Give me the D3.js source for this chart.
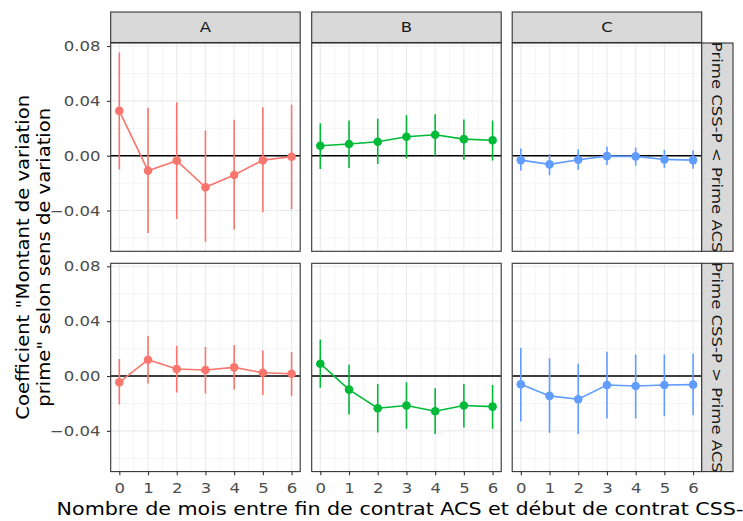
<!DOCTYPE html>
<html>
<head>
<meta charset="utf-8">
<script src="https://cdn.jsdelivr.net/npm/d3@7"></script>
<style>
  body { margin: 0; background: #fff; }
  svg { display: block; }
  text { font-family: "DejaVu Sans", sans-serif; }
</style>
</head>
<body>
<svg id="chart" width="743" height="521"></svg>
<script>
// ---- data ----
const months = [0, 1, 2, 3, 4, 5, 6];
const colFacets = ["A", "B", "C"];
const rowFacets = ["Prime CSS-P < Prime ACS", "Prime CSS-P > Prime ACS"];
const facetColors = ["#F8766D", "#00BA38", "#619CFF"];
const yTicks = [-0.04, 0.00, 0.04, 0.08];
const yMinorTicks = [-0.06, -0.02, 0.02, 0.06];
const xMinorTicks = [0.5, 1.5, 2.5, 3.5, 4.5, 5.5];

// row 1: Prime CSS-P < Prime ACS
const estA_lt  = [0.0327, -0.0109, -0.0036, -0.0230, -0.0141, -0.0032, -0.0007];
const lowA_lt  = [-0.0100, -0.0563, -0.0461, -0.0628, -0.0538, -0.0412, -0.0390];
const highA_lt = [0.0753, 0.0349, 0.0390, 0.0184, 0.0262, 0.0354, 0.0371];
const estB_lt  = [0.0073, 0.0085, 0.0102, 0.0138, 0.0153, 0.0121, 0.0113];
const lowB_lt  = [-0.0097, -0.0090, -0.0061, -0.0020, 0.0000, -0.0029, -0.0034];
const highB_lt = [0.0237, 0.0257, 0.0269, 0.0295, 0.0303, 0.0264, 0.0257];
const estC_lt  = [-0.0032, -0.0063, -0.0029, -0.0003, -0.0005, -0.0027, -0.0032];
const lowC_lt  = [-0.0107, -0.0143, -0.0102, -0.0068, -0.0073, -0.0090, -0.0095];
const highC_lt = [0.0053, 0.0012, 0.0048, 0.0068, 0.0060, 0.0041, 0.0039];
// row 2: Prime CSS-P > Prime ACS
const estA_gt  = [-0.0046, 0.0119, 0.0051, 0.0044, 0.0063, 0.0024, 0.0017];
const lowA_gt  = [-0.0208, -0.0055, -0.0121, -0.0128, -0.0099, -0.0138, -0.0148];
const highA_gt = [0.0124, 0.0291, 0.0221, 0.0211, 0.0225, 0.0187, 0.0175];
const estB_gt  = [0.0090, -0.0099, -0.0235, -0.0215, -0.0257, -0.0215, -0.0223];
const lowB_gt  = [-0.0085, -0.0281, -0.0412, -0.0385, -0.0422, -0.0375, -0.0385];
const highB_gt = [0.0267, 0.0083, -0.0058, -0.0046, -0.0089, -0.0058, -0.0065];
const estC_gt  = [-0.0060, -0.0145, -0.0169, -0.0065, -0.0073, -0.0065, -0.0063];
const lowC_gt  = [-0.0332, -0.0413, -0.0422, -0.0310, -0.0310, -0.0293, -0.0286];
const highC_gt = [0.0206, 0.0129, 0.0090, 0.0177, 0.0157, 0.0157, 0.0163];

const xTitle = "Nombre de mois entre fin de contrat ACS et début de contrat CSS-P";
const yTitle = ["Coefficient \"Montant de variation", "prime\" selon sens de variation"];

const series = [
  [[estA_lt, lowA_lt, highA_lt], [estB_lt, lowB_lt, highB_lt], [estC_lt, lowC_lt, highC_lt]],
  [[estA_gt, lowA_gt, highA_gt], [estB_gt, lowB_gt, highB_gt], [estC_gt, lowC_gt, highC_gt]]
];

// ---- layout ----
const svg = d3.select("#chart");
const panelLeft = [110.7, 311.7, 512.2];
const panelW = 189.5;
const panelTop = [43, 263.3];
const panelH = 208.3;
const stripH = 30.5;
const stripRightW = 31.3;
const SX = 1.18;          // horizontal glyph stretch along writing direction
const tickFont = "14px";
const titleFont = "17.5px";

function stretchText(sel, sx) {
  sel.each(function () {
    const t = d3.select(this);
    const tx = +t.attr("x") || 0;
    const ty = +t.attr("y") || 0;
    t.attr("x", 0).attr("y", 0).attr("transform", `translate(${tx},${ty}) scale(${sx},1)`);
  });
}

// scales
const allVals = [];
series.forEach(r => r.forEach(s => { allVals.push(...s[1], ...s[2], ...s[0]); }));
const yMin = d3.min(allVals), yMax = d3.max(allVals);
const yPad = (yMax - yMin) * 0.05;
const xPad = (d3.max(months) - d3.min(months)) * 0.05;

const x = d3.scaleLinear().domain([d3.min(months) - xPad, d3.max(months) + xPad]).range([0, panelW]);
const y = d3.scaleLinear().domain([yMin - yPad, yMax + yPad]).range([panelH, 0]);

const defs = svg.append("defs");

rowFacets.forEach((rowName, ri) => {
  colFacets.forEach((colName, ci) => {
    const g = svg.append("g").attr("transform", `translate(${panelLeft[ci]},${panelTop[ri]})`);
    const clipId = `clip-${ri}-${ci}`;
    defs.append("clipPath").attr("id", clipId).append("rect").attr("width", panelW).attr("height", panelH);

    g.append("rect").attr("width", panelW).attr("height", panelH).attr("fill", "#fff");
    // minor grid
    g.selectAll(".ymin").data(yMinorTicks).enter().append("line")
      .attr("x1", 0).attr("x2", panelW).attr("y1", d => y(d)).attr("y2", d => y(d))
      .attr("stroke", "#EBEBEB").attr("stroke-width", 0.55);
    g.selectAll(".xmin").data(xMinorTicks).enter().append("line")
      .attr("y1", 0).attr("y2", panelH).attr("x1", d => x(d)).attr("x2", d => x(d))
      .attr("stroke", "#EBEBEB").attr("stroke-width", 0.55);
    // major grid
    g.selectAll(".ymaj").data(yTicks).enter().append("line")
      .attr("x1", 0).attr("x2", panelW).attr("y1", d => y(d)).attr("y2", d => y(d))
      .attr("stroke", "#EBEBEB").attr("stroke-width", 1.1);
    g.selectAll(".xmaj").data(months).enter().append("line")
      .attr("y1", 0).attr("y2", panelH).attr("x1", d => x(d)).attr("x2", d => x(d))
      .attr("stroke", "#EBEBEB").attr("stroke-width", 1.1);

    const [est, low, high] = series[ri][ci];
    const color = facetColors[ci];
    const pts = months.map((m, i) => ({ m, e: est[i], lo: low[i], hi: high[i] }));
    const inner = g.append("g").attr("clip-path", `url(#${clipId})`);

    // zero line
    inner.append("line").attr("x1", 0).attr("x2", panelW).attr("y1", y(0)).attr("y2", y(0))
      .attr("stroke", "#000").attr("stroke-width", 1.6);

    // error bars
    inner.selectAll(".err").data(pts).enter().append("line")
      .attr("x1", d => x(d.m)).attr("x2", d => x(d.m))
      .attr("y1", d => y(d.lo)).attr("y2", d => y(d.hi))
      .attr("stroke", color).attr("stroke-width", 1.6);
    // line
    inner.append("path").datum(pts)
      .attr("d", d3.line().x(d => x(d.m)).y(d => y(d.e)))
      .attr("fill", "none").attr("stroke", color).attr("stroke-width", 1.6);
    // points
    inner.selectAll(".pt").data(pts).enter().append("circle")
      .attr("cx", d => x(d.m)).attr("cy", d => y(d.e)).attr("r", 4.3)
      .attr("fill", color);

    // border
    g.append("rect").attr("width", panelW).attr("height", panelH)
      .attr("fill", "none").attr("stroke", "#333333").attr("stroke-width", 1.1);

    // y axis on first column
    if (ci === 0) {
      const ya = g.append("g").call(d3.axisLeft(y).tickValues(yTicks).tickFormat(d3.format(".2f")).tickSize(3.7).tickPadding(6.5));
      ya.select(".domain").remove();
      ya.selectAll(".tick line").attr("stroke", "#333333").attr("stroke-width", 1.1);
      const tt = ya.selectAll(".tick text").attr("fill", "#4D4D4D").style("font-size", tickFont)
        .style("font-family", "DejaVu Sans");
      stretchText(tt, SX);
    }
    // x axis on bottom row
    if (ri === rowFacets.length - 1) {
      const xa = g.append("g").attr("transform", `translate(0,${panelH})`)
        .call(d3.axisBottom(x).tickValues(months).tickFormat(d3.format("d")).tickSize(3.7).tickPadding(8));
      xa.select(".domain").remove();
      xa.selectAll(".tick line").attr("stroke", "#333333").attr("stroke-width", 1.1);
      const tt = xa.selectAll(".tick text").attr("fill", "#4D4D4D").style("font-size", tickFont)
        .style("font-family", "DejaVu Sans");
      stretchText(tt, SX);
    }

    // top strips
    if (ri === 0) {
      const s = svg.append("g").attr("transform", `translate(${panelLeft[ci]},${panelTop[0] - stripH - 0.5})`);
      s.append("rect").attr("width", panelW).attr("height", stripH)
        .attr("fill", "#D9D9D9").attr("stroke", "#333333").attr("stroke-width", 1.1);
      s.append("text")
        .attr("transform", `translate(${panelW / 2},${stripH / 2}) scale(${SX},1)`)
        .attr("dy", "0.36em")
        .attr("text-anchor", "middle").attr("fill", "#1A1A1A").style("font-size", tickFont).text(colName);
    }
    // right strips
    if (ci === colFacets.length - 1) {
      const sx = panelLeft[ci] + panelW;
      const sid = `sclip-${ri}`;
      defs.append("clipPath").attr("id", sid).append("rect")
        .attr("x", sx).attr("y", panelTop[ri]).attr("width", stripRightW).attr("height", panelH);
      svg.append("rect").attr("x", sx).attr("y", panelTop[ri]).attr("width", stripRightW).attr("height", panelH)
        .attr("fill", "#D9D9D9").attr("stroke", "#333333").attr("stroke-width", 1.1);
      svg.append("g").attr("clip-path", `url(#${sid})`)
        .append("text")
        .attr("transform", `translate(${sx + stripRightW / 2},${panelTop[ri] + panelH / 2}) rotate(90) scale(${SX},1)`)
        .attr("text-anchor", "middle").attr("dy", "0.36em")
        .attr("fill", "#1A1A1A").style("font-size", tickFont).text(rowName);
    }
  });
});

// axis titles
const plotCenterX = (panelLeft[0] + panelLeft[2] + panelW) / 2;
svg.append("text")
  .attr("transform", `translate(${plotCenterX},515) scale(${SX},1)`)
  .attr("text-anchor", "middle")
  .attr("fill", "#000").style("font-size", titleFont).text(xTitle);

const plotCenterY = (panelTop[0] + panelTop[1] + panelH) / 2;
const yt = svg.append("text").attr("transform", `translate(0,${plotCenterY}) rotate(-90) scale(1.12,1)`)
  .attr("text-anchor", "middle").attr("fill", "#000").style("font-size", titleFont);
yTitle.forEach((line, i) => {
  yt.append("tspan").attr("x", 0).attr("y", 29.5 + i * 20.5).text(line);
});
</script>
</body>
</html>
